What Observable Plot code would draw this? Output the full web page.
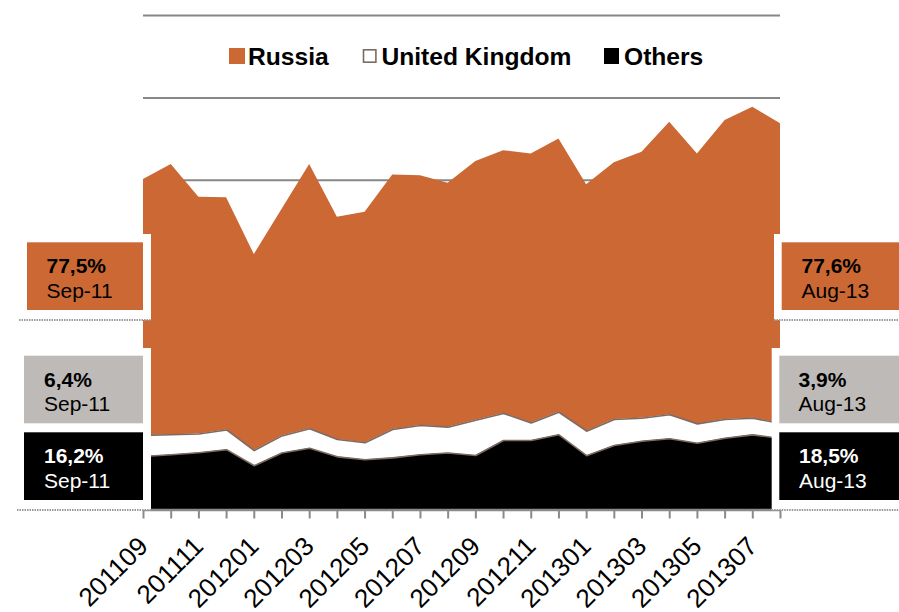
<!DOCTYPE html>
<html>
<head>
<meta charset="utf-8">
<script src="https://cdn.jsdelivr.net/npm/d3@7"></script>
<script src="https://cdn.jsdelivr.net/npm/@observablehq/plot@0.6"></script>
<style>
  body { margin: 0; background: #fff; }
  #wrap { position: relative; width: 899px; height: 612px; font-family: "Liberation Sans", Arial, sans-serif; }
  #wrap > svg { position: absolute; left: 0; top: 0; }
</style>
</head>
<body>
<div id="wrap"></div>
<script>
// ---- data ----
const months = ["201109","201110","201111","201112","201201","201202","201203","201204",
                "201205","201206","201207","201208","201209","201210","201211","201212",
                "201301","201302","201303","201304","201305","201306","201307","201308"];
const russia = [310.5, 328.0, 287.3, 281.7, 237.8, 274.7, 320.7, 269.7, 279.8, 309.0, 303.0, 296.0,
                313.9, 318.7, 326.6, 331.7, 299.0, 311.5, 322.7, 355.0, 327.6, 362.8, 377.3, 363.6];
const uk     = [25.6, 24.3, 22.8, 23.9, 18.4, 20.7, 23.5, 21.0, 20.5, 34.3, 35.5, 31.3,
                42.8, 32.8, 21.2, 27.4, 29.7, 31.5, 28.0, 29.1, 23.5, 22.7, 20.1, 18.3];
const others = [64.9, 67.0, 69.4, 73.2, 53.7, 69.2, 75.0, 64.5, 61.0, 63.3, 67.0, 69.2,
                66.1, 84.3, 84.3, 91.2, 65.9, 78.3, 83.4, 86.4, 81.0, 87.1, 91.2, 86.7];
const seriesNames  = ["Russia", "United Kingdom", "Others"];
const seriesColors = ["#CC6833", "#FFFFFF", "#000000"];
const stackOrder   = ["Others", "United Kingdom", "Russia"];
const startPct = ["77,5%", "6,4%", "16,2%"];
const endPct   = ["77,6%", "3,9%", "18,5%"];
const startLabel = "Sep-11";
const endLabel   = "Aug-13";
const gridTicks = [100, 200, 300, 400, 500, 600];

// ---- long table ----
const rows = [];
months.forEach((m, i) => {
  rows.push({i, month: m, series: "Others", value: others[i]});
  rows.push({i, month: m, series: "United Kingdom", value: uk[i]});
  rows.push({i, month: m, series: "Russia", value: russia[i]});
});

const FONT = "'Liberation Sans', Arial, sans-serif";

const chart = Plot.plot({
  width: 899,
  height: 612,
  marginLeft: 143,
  marginRight: 119,
  marginTop: 15,
  marginBottom: 102.5,
  style: {fontFamily: FONT, background: "transparent", overflow: "visible"},
  x: {type: "linear", domain: [0, months.length - 1]},
  y: {domain: [0, 600], axis: null},
  color: {domain: seriesNames, range: seriesColors},
  marks: [
    Plot.gridY(gridTicks, {stroke: "#878787", strokeOpacity: 1, strokeWidth: 2}),
    Plot.areaY(rows, Plot.stackY({x: "i", y: "value", z: "series", fill: "series", order: stackOrder})),
    Plot.lineY(rows.filter(d => d.series !== "Russia"),
      Plot.stackY2({x: "i", y: "value", z: "series", order: stackOrder, stroke: "#7b6b63", strokeWidth: 1.6})),
    Plot.ruleY([0], {stroke: "#8a8a8a", strokeWidth: 2.5}),
    Plot.axisX({
      ticks: d3.range(months.length),
      tickFormat: i => (i % 2 === 0 ? months[i] : ""),
      tickSize: 9,
      tickPadding: 23,
      tickRotate: -45,
      fontSize: 26,
      stroke: "#8a8a8a",
      strokeWidth: 2,
      fill: "#000",
      label: null
    })
  ]
});

const wrap = document.getElementById("wrap");
wrap.appendChild(chart);

// ---- overlay: legend + annotation boxes ----
const ov = d3.select(wrap).append("svg")
  .attr("width", 899).attr("height", 612)
  .style("font-family", FONT);

// legend
const leg = [
  {name: seriesNames[0], fill: seriesColors[0], sq: [229, 48, 16, 16], tx: 248, stroke: null},
  {name: seriesNames[1], fill: seriesColors[1], sq: [363.5, 49.8, 12.4, 12.4], tx: 381.5, stroke: "#7b6b63"},
  {name: seriesNames[2], fill: seriesColors[2], sq: [604, 48, 15, 16], tx: 624, stroke: null}
];
leg.forEach(l => {
  const r = ov.append("rect").attr("x", l.sq[0]).attr("y", l.sq[1]).attr("width", l.sq[2]).attr("height", l.sq[3]).attr("fill", l.fill);
  if (l.stroke) r.attr("stroke", l.stroke).attr("stroke-width", 1.6);
  ov.append("text").attr("x", l.tx).attr("y", 65).attr("font-size", 24.6).attr("font-weight", "bold")
    .attr("fill", "#000").text(l.name);
});

// boxes
function frame(x, y, w, h) {
  ov.append("rect").attr("x", x).attr("y", y).attr("width", w).attr("height", h).attr("fill", "#fff");
  ov.append("line").attr("x1", x).attr("x2", x + w).attr("y1", y + h).attr("y2", y + h)
    .attr("stroke", "#9a9a9a").attr("stroke-width", 2).attr("stroke-dasharray", "1.5,1");
}
function box(x, y, w, h, fill, pct, label, color, tx) {
  ov.append("rect").attr("x", x).attr("y", y).attr("width", w).attr("height", h).attr("fill", fill);
  ov.append("text").attr("x", tx).attr("y", y + 31).attr("font-size", 21).attr("font-weight", "bold")
    .attr("fill", color).text(pct);
  ov.append("text").attr("x", tx).attr("y", y + 55.5).attr("font-size", 21)
    .attr("fill", color).text(label);
}
const boxFills = ["#CC6833", "#BEBAB7", "#000000"];
const boxText  = ["#000", "#000", "#fff"];

// left
frame(19, 234, 132, 86);
frame(17, 348, 134, 162);
box(27, 242.3, 116, 67.7, boxFills[0], startPct[0], startLabel, boxText[0], 46.5);
box(24, 355.7, 119, 67.6, boxFills[1], startPct[1], startLabel, boxText[1], 44);
box(24, 432.3, 119, 67.7, boxFills[2], startPct[2], startLabel, boxText[2], 44);

// right
frame(774, 234, 125, 86);
frame(771.7, 348, 127.3, 162);
box(781.7, 242.3, 117.3, 67.7, boxFills[0], endPct[0], endLabel, boxText[0], 801.5);
box(779.3, 355.7, 119.7, 67.6, boxFills[1], endPct[1], endLabel, boxText[1], 798.5);
box(779.3, 432.3, 119.7, 67.7, boxFills[2], endPct[2], endLabel, boxText[2], 799);
</script>
</body>
</html>
